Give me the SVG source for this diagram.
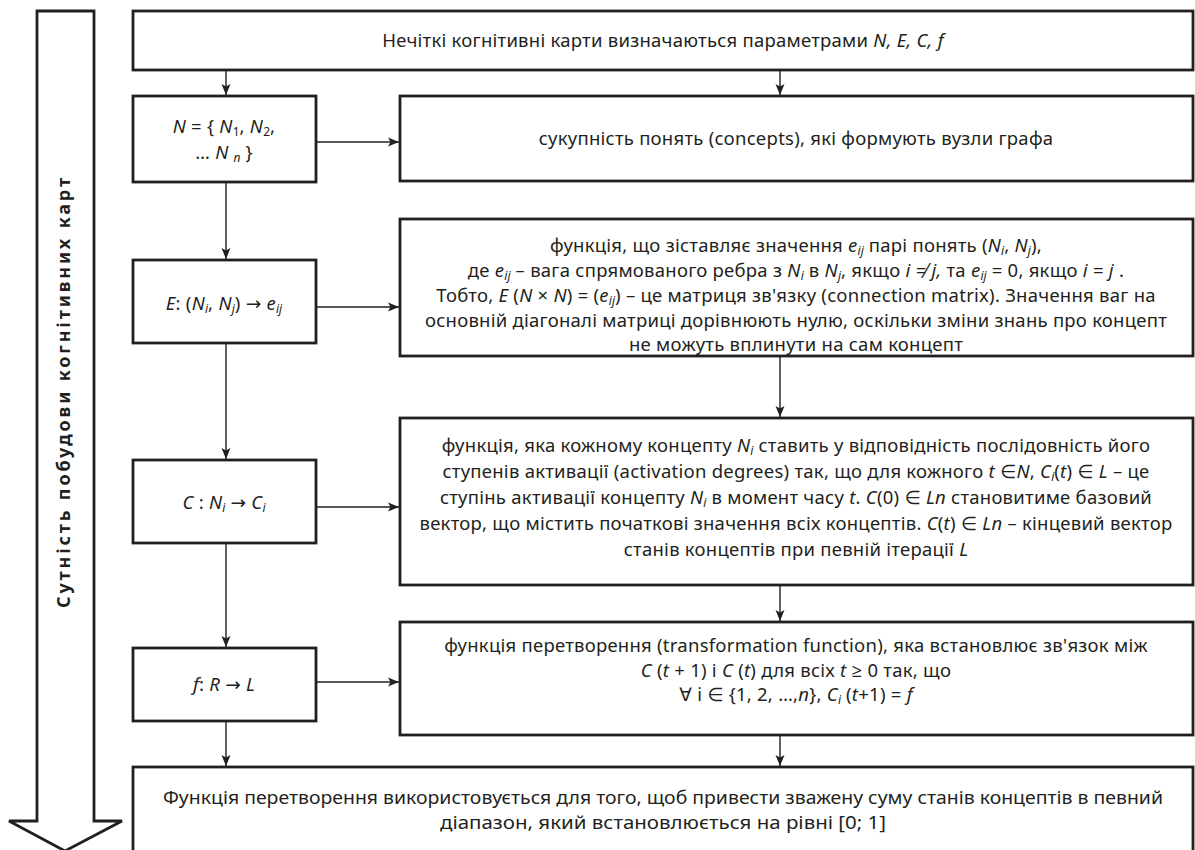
<svg xmlns="http://www.w3.org/2000/svg" width="1195" height="850" viewBox="0 0 1195 850">
<defs>
<marker id="ah" markerUnits="userSpaceOnUse" markerWidth="12" markerHeight="12" refX="11" refY="5" orient="auto" viewBox="0 0 12 10">
<path d="M0,0.5 L11,5 L0,9.5 L2.5,5 z" fill="#231f20"/>
</marker>
<style>
.box{fill:#fff;stroke:#231f20;stroke-width:2.8}
.ln{fill:none;stroke:#231f20;stroke-width:1.4;marker-end:url(#ah)}
text{font-family:"Noto Sans","Open Sans","DejaVu Sans",sans-serif;font-size:18.5px;letter-spacing:0.25px;fill:#231f20;text-anchor:middle}
.i{font-style:italic}
.s{font-size:12px;letter-spacing:0}
.lbl{font-weight:bold;font-size:18px;letter-spacing:0}
.bt{font-size:18.5px;letter-spacing:0}
</style>
</defs>
<rect width="1195" height="850" fill="#fff"/>

<g id="side-arrow">
<polygon points="37,11 94,11 94,821 122,821 65,851 9,821 37,821" fill="#fff" stroke="#231f20" stroke-width="2.8" stroke-linejoin="miter"/>
<text class="lbl" transform="translate(70,393) rotate(-90)" textLength="430" lengthAdjust="spacing">Сутність побудови когнітивних карт</text>
</g>

<g id="top">
<rect class="box" x="133" y="11" width="1060" height="59"/>
<text x="663" y="47">Нечіткі когнітивні карти визначаються параметрами <tspan class="i">N, E, C, f</tspan></text>
</g>

<g id="n-node">
<rect class="box" x="133" y="96" width="183" height="86"/>
<text x="224" y="133"><tspan class="i">N</tspan> = { <tspan class="i">N</tspan><tspan class="s" dy="3">1</tspan><tspan dy="-3">, </tspan><tspan class="i">N</tspan><tspan class="s" dy="3">2</tspan><tspan dy="-3">,</tspan></text>
<text x="224" y="159">… <tspan class="i">N</tspan> <tspan class="i s" dy="3">n</tspan><tspan dy="-3"> }</tspan></text>
</g>

<g id="n-desc">
<rect class="box" x="400" y="96" width="793" height="85"/>
<text x="796" y="145">сукупність понять (concepts), які формують вузли графа</text>
</g>

<g id="e-node">
<rect class="box" x="133" y="260" width="183" height="83"/>
<text x="224" y="310"><tspan class="i">E</tspan>: (<tspan class="i">N</tspan><tspan class="i s" dy="3">i</tspan><tspan dy="-3">, </tspan><tspan class="i">N</tspan><tspan class="i s" dy="3">j</tspan><tspan dy="-3">) → </tspan><tspan class="i">e</tspan><tspan class="i s" dy="3">ij</tspan></text>
</g>

<g id="e-desc">
<rect class="box" x="400" y="219" width="793" height="137"/>
<text x="796" y="252">функція, що зіставляє значення <tspan class="i">e</tspan><tspan class="i s" dy="3">ij</tspan><tspan dy="-3">  парі понять (</tspan><tspan class="i">N</tspan><tspan class="i s" dy="3">i</tspan><tspan dy="-3">, </tspan><tspan class="i">N</tspan><tspan class="i s" dy="3">j</tspan><tspan dy="-3">),</tspan></text>
<text x="796" y="277">де <tspan class="i">e</tspan><tspan class="i s" dy="3">ij</tspan><tspan dy="-3">  – вага спрямованого ребра з </tspan><tspan class="i">N</tspan><tspan class="i s" dy="3">i</tspan><tspan dy="-3"> в </tspan><tspan class="i">N</tspan><tspan class="i s" dy="3">j</tspan><tspan dy="-3">, якщо </tspan><tspan class="i">i ≠ j,</tspan>  та <tspan class="i">e</tspan><tspan class="i s" dy="3">ij</tspan><tspan dy="-3"> = 0, якщо </tspan><tspan class="i">i</tspan> = <tspan class="i">j</tspan> .</text>
<text x="796" y="302">Тобто, <tspan class="i">E</tspan> (<tspan class="i">N</tspan> × <tspan class="i">N</tspan>) = (<tspan class="i">e</tspan><tspan class="i s" dy="3">ij</tspan><tspan dy="-3">) – це матриця зв'язку (connection matrix). Значення ваг на</tspan></text>
<text x="796" y="327">основній діагоналі матриці дорівнюють нулю, оскільки зміни знань про концепт</text>
<text x="796" y="351">не можуть вплинути на сам концепт</text>
</g>

<g id="c-node">
<rect class="box" x="133" y="460" width="183" height="83"/>
<text x="224" y="509"><tspan class="i">C</tspan> : <tspan class="i">N</tspan><tspan class="i s" dy="3">i</tspan><tspan dy="-3"> → </tspan><tspan class="i">C</tspan><tspan class="i s" dy="3">i</tspan></text>
</g>

<g id="c-desc">
<rect class="box" x="400" y="418" width="793" height="167"/>
<text x="796" y="452">функція, яка кожному концепту <tspan class="i">N</tspan><tspan class="i s" dy="3">i</tspan><tspan dy="-3"> ставить у відповідність послідовність його</tspan></text>
<text x="796" y="478">ступенів активації (activation degrees) так, що для кожного <tspan class="i">t</tspan> ∈<tspan class="i">N</tspan>, <tspan class="i">C</tspan><tspan class="i s" dy="3">i</tspan><tspan dy="-3">(</tspan><tspan class="i">t</tspan>) ∈ <tspan class="i">L</tspan> – це</text>
<text x="796" y="504">ступінь активації концепту <tspan class="i">N</tspan><tspan class="i s" dy="3">i</tspan><tspan dy="-3"> в момент часу </tspan><tspan class="i">t</tspan>. <tspan class="i">C</tspan>(0) ∈ <tspan class="i">Ln</tspan> становитиме базовий</text>
<text x="796" y="530">вектор, що містить початкові значення всіх концептів. <tspan class="i">C</tspan>(<tspan class="i">t</tspan>) ∈ <tspan class="i">Ln</tspan> – кінцевий вектор</text>
<text x="796" y="556">станів концептів при певній ітерації <tspan class="i">L</tspan></text>
</g>

<g id="f-node">
<rect class="box" x="133" y="648" width="183" height="73"/>
<text x="224" y="691"><tspan class="i">f</tspan>: <tspan class="i">R</tspan> → <tspan class="i">L</tspan></text>
</g>

<g id="f-desc">
<rect class="box" x="400" y="622" width="793" height="113"/>
<text x="796" y="652">функція перетворення (transformation function), яка встановлює зв'язок між</text>
<text x="796" y="677"><tspan class="i">C</tspan> (<tspan class="i">t</tspan> + 1) і <tspan class="i">C</tspan> (<tspan class="i">t</tspan>) для всіх <tspan class="i">t</tspan> ≥ 0 так, що</text>
<text x="796" y="701">∀ i ∈ {1, 2, …,<tspan class="i">n</tspan>}, <tspan class="i">C</tspan><tspan class="i s" dy="3">i</tspan><tspan dy="-3"> (</tspan><tspan class="i">t</tspan>+1) = <tspan class="i">f</tspan></text>
</g>

<g id="bottom">
<rect class="box" x="133" y="767" width="1060" height="90"/>
<text class="bt" x="663" y="804" textLength="1000" lengthAdjust="spacingAndGlyphs">Функція перетворення використовується для того, щоб привести зважену суму станів концептів в певний</text>
<text class="bt" x="663" y="829" textLength="446" lengthAdjust="spacingAndGlyphs">діапазон, який встановлюється на рівні [0; 1]</text>
</g>

<g id="connectors">
<line class="ln" x1="226" y1="70" x2="226" y2="95"/>
<line class="ln" x1="780" y1="70" x2="780" y2="95"/>
<line class="ln" x1="316" y1="142" x2="399" y2="142"/>
<line class="ln" x1="226" y1="182" x2="226" y2="259"/>
<line class="ln" x1="316" y1="307" x2="399" y2="307"/>
<line class="ln" x1="780" y1="356" x2="780" y2="417"/>
<line class="ln" x1="226" y1="343" x2="226" y2="459"/>
<line class="ln" x1="316" y1="507" x2="399" y2="507"/>
<line class="ln" x1="780" y1="585" x2="780" y2="621"/>
<line class="ln" x1="226" y1="543" x2="226" y2="647"/>
<line class="ln" x1="316" y1="682" x2="399" y2="682"/>
<line class="ln" x1="226" y1="721" x2="226" y2="766"/>
<line class="ln" x1="780" y1="735" x2="780" y2="766"/>
</g>
</svg>
